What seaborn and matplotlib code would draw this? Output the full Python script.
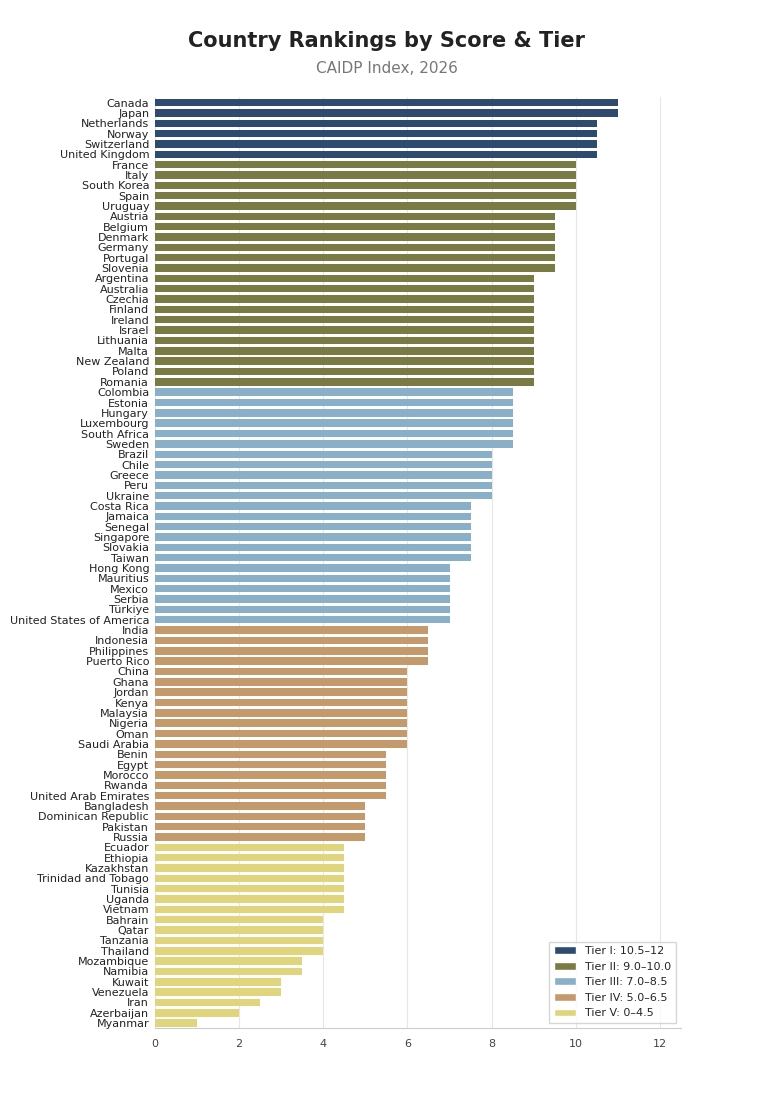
import matplotlib
matplotlib.use("Agg")
import matplotlib.pyplot as plt
import seaborn as sns
import pandas as pd
from matplotlib.patches import Patch

groups = [
 (["Canada","Japan"],11),
 (["Netherlands","Norway","Switzerland","United Kingdom"],10.5),
 (["France","Italy","South Korea","Spain","Uruguay"],10),
 (["Austria","Belgium","Denmark","Germany","Portugal","Slovenia"],9.5),
 (["Argentina","Australia","Czechia","Finland","Ireland","Israel","Lithuania","Malta","New Zealand","Poland","Romania"],9),
 (["Colombia","Estonia","Hungary","Luxembourg","South Africa","Sweden"],8.5),
 (["Brazil","Chile","Greece","Peru","Ukraine"],8),
 (["Costa Rica","Jamaica","Senegal","Singapore","Slovakia","Taiwan"],7.5),
 (["Hong Kong","Mauritius","Mexico","Serbia","Türkiye","United States of America"],7),
 (["India","Indonesia","Philippines","Puerto Rico"],6.5),
 (["China","Ghana","Jordan","Kenya","Malaysia","Nigeria","Oman","Saudi Arabia"],6),
 (["Benin","Egypt","Morocco","Rwanda","United Arab Emirates"],5.5),
 (["Bangladesh","Dominican Republic","Pakistan","Russia"],5),
 (["Ecuador","Ethiopia","Kazakhstan","Trinidad and Tobago","Tunisia","Uganda","Vietnam"],4.5),
 (["Bahrain","Qatar","Tanzania","Thailand"],4),
 (["Mozambique","Namibia"],3.5),
 (["Kuwait","Venezuela"],3),
 (["Iran"],2.5),
 (["Azerbaijan"],2),
 (["Myanmar"],1),
]
countries = [c for g,v in groups for c in g]
scores = [v for g,v in groups for c in g]
tier_labels = ["Tier I: 10.5–12","Tier II: 9.0–10.0","Tier III: 7.0–8.5","Tier IV: 5.0–6.5","Tier V: 0–4.5"]
tier_colors = ["#2e4a6e","#7a7a45","#8aafc8","#c49a6c","#e0d47c"]

def tier(s):
    if s>=10.5: return tier_labels[0]
    if s>=9: return tier_labels[1]
    if s>=7: return tier_labels[2]
    if s>=5: return tier_labels[3]
    return tier_labels[4]

df = pd.DataFrame({"country":countries,"score":scores})
df["tier"] = df["score"].map(tier)

sns.set_style("white")
fig, ax = plt.subplots(figsize=(7.74,10.94), dpi=100)
sns.barplot(data=df, y="country", x="score", hue="tier", hue_order=tier_labels,
            palette=dict(zip(tier_labels,tier_colors)), dodge=False, width=0.72,
            saturation=1, linewidth=0, ax=ax, legend=False, zorder=3)
for p in ax.patches:
    p.set_zorder(3)
ax.set_xlim(0,12.5)
ax.set_xticks([0,2,4,6,8,10,12])
ax.xaxis.grid(True, color="#e6e6e6", linewidth=0.8, zorder=0)
ax.set_axisbelow(True)
ax.set_xlabel(""); ax.set_ylabel("")
ax.set_ylim(len(countries)-0.5, -0.5)
ax.tick_params(axis="y", labelsize=8, length=0, pad=4, colors="#222222")
ax.tick_params(axis="x", labelsize=8, length=4, colors="#444444")
for s in ["top","right","left"]:
    ax.spines[s].set_visible(False)
ax.spines["bottom"].set_color("#cccccc")
handles=[Patch(facecolor=c,label=l) for l,c in zip(tier_labels,tier_colors)]
ax.legend(handles=handles, loc="lower right", fontsize=8, frameon=True, edgecolor="#cccccc", fancybox=False)
fig.suptitle("Country Rankings by Score & Tier", fontsize=15, fontweight="bold", y=0.972, color="#222222")
fig.text(0.5, 0.933, "CAIDP Index, 2026", ha="center", fontsize=11, color="#777777")
plt.subplots_adjust(left=0.2, right=0.88, top=0.911, bottom=0.06)
fig.savefig("out.png", dpi=100)
